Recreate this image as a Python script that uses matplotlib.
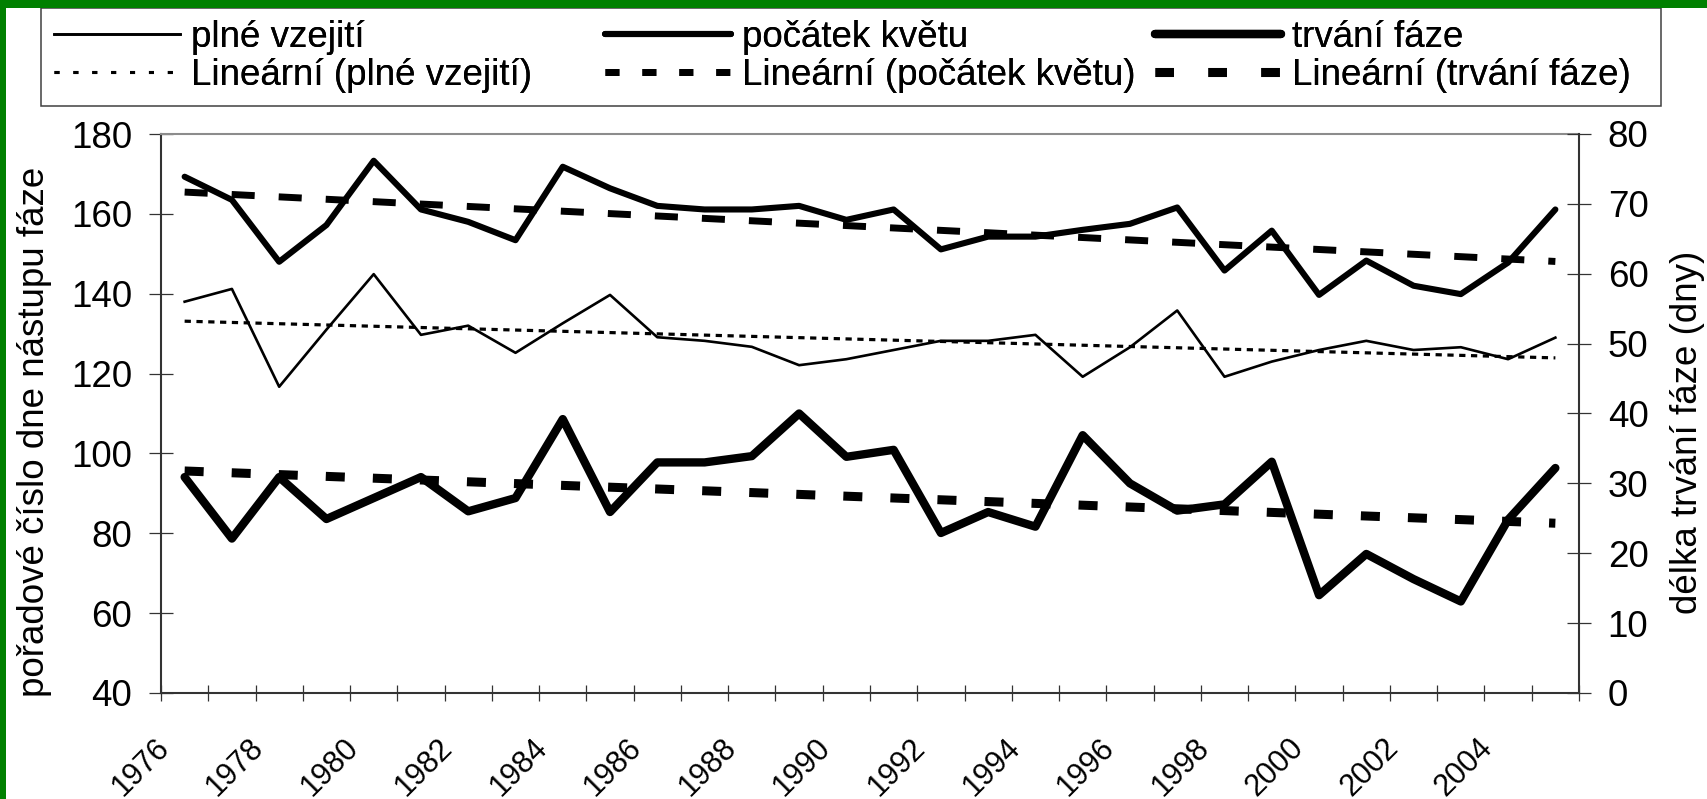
import numpy as np
import matplotlib
matplotlib.use("Agg")
import matplotlib.pyplot as plt
from matplotlib.patches import Rectangle
from matplotlib.lines import Line2D
from matplotlib.transforms import ScaledTranslation

plt.rcParams['font.family'] = ['Liberation Sans', 'DejaVu Sans']
plt.rcParams['lines.scale_dashes'] = False

# data
years = list(range(1976, 2006))
plne_vzejiti = [138.0, 141.2, 116.7, 131.0, 144.9, 129.7, 132.0, 125.2, 132.6, 139.7,
                129.1, 128.2, 126.7, 122.1, 123.6, 125.9, 128.2, 128.2, 129.7, 119.2,
                126.6, 135.8, 119.2, 123.0, 125.9, 128.2, 125.9, 126.6, 123.6, 129.0]
pocatek_kvetu = [169.3, 163.5, 148.0, 157.2, 173.3, 161.1, 158.0, 153.4, 171.8, 166.4,
                 162.0, 161.1, 161.1, 162.0, 158.5, 161.1, 151.1, 154.3, 154.3, 156.0,
                 157.5, 161.6, 145.8, 155.8, 139.7, 148.3, 142.0, 139.9, 147.8, 161.1]
trvani_faze = [30.9, 22.1, 30.9, 24.9, 27.9, 30.9, 26.0, 27.9, 39.2, 25.9,
               33.0, 33.0, 33.9, 40.0, 33.8, 34.8, 22.9, 25.9, 23.8, 36.9,
               30.0, 26.1, 27.0, 33.1, 14.0, 19.9, 16.3, 13.1, 24.8, 32.2]
tick_labels = [str(y) for y in years[::2]]

W, H = 1708, 799
FS = 26.5      # legend, y tick labels, axis titles
FS_SMALL = 22  # year labels

fig = plt.figure(figsize=(W / 100, H / 100), dpi=100)
ax = fig.add_axes([161 / W, 1 - 693 / H, (1579 - 161) / W, (693 - 134) / H])
ax2 = ax.twinx()

idx = np.arange(len(years))
x = idx + 0.5

def trend(vals):
    k, q = np.polyfit(idx, vals, 1)
    return k * idx + q

# series
ax.plot(x, plne_vzejiti, color='black', lw=1.9, solid_joinstyle='round')
ax.plot(x, pocatek_kvetu, color='black', lw=4.4, solid_joinstyle='round', solid_capstyle='round')
ax2.plot(x, trvani_faze, color='black', lw=6.0, solid_joinstyle='round', solid_capstyle='round')

# linear trends
ax.plot(x, trend(plne_vzejiti), color='black', lw=2.3, dashes=(4.5, 4.0), dash_capstyle='butt')
ax.plot(x, trend(pocatek_kvetu), color='black', lw=5.0, dashes=(16.6, 17.3), dash_capstyle='butt')
ax2.plot(x, trend(trvani_faze), color='black', lw=6.5, dashes=(13.7, 20.2), dash_capstyle='butt')

# axes
ax.set_xlim(0, 30)
ax.set_ylim(40, 180)
ax.set_yticks(np.arange(40, 181, 20))
ax2.set_ylim(0, 80)
ax2.set_yticks(np.arange(0, 81, 10))

ax.set_xticks(np.arange(0, 31))
ax.set_xticklabels([tick_labels[i // 2] if (i % 2 == 0 and i < 30) else '' for i in range(31)])
ax.tick_params(axis='x', direction='inout', length=11.5, width=0.9, color='#333333',
               labelsize=FS_SMALL, pad=23)
for lab in ax.get_xticklabels():
    lab.set_rotation(45)
    lab.set_rotation_mode('anchor')
    lab.set_ha('right')
    lab.set_va('top')
    lab.set_transform(lab.get_transform() + ScaledTranslation(-7 / 100, 0, fig.dpi_scale_trans))

ax.tick_params(axis='y', direction='inout', length=17.3, width=0.9, color='#333333',
               labelsize=FS, pad=12)
ax2.tick_params(axis='y', direction='inout', length=17.3, width=0.9, color='#333333',
                labelsize=FS, pad=12)

for sp in ['left', 'bottom']:
    ax.spines[sp].set_color('#333333')
    ax.spines[sp].set_linewidth(1.5)
ax.spines['top'].set_color('#8c8c8c')
ax.spines['top'].set_linewidth(1.5)
ax.spines['right'].set_visible(False)
for sp in ['left', 'bottom', 'top']:
    ax2.spines[sp].set_visible(False)
ax2.spines['right'].set_color('#333333')
ax2.spines['right'].set_linewidth(1.5)

ax.set_ylabel('pořadové číslo dne nástupu fáze', fontsize=FS)
ax.yaxis.set_label_coords(-0.0769, 0.467)
ax2.set_ylabel('délka trvání fáze (dny)', fontsize=FS)
ax2.yaxis.set_label_coords(1.0642, 0.467)

# legend: three columns of equal width, inside one box
leg_cols = [
    ([Line2D([], [], color='black', lw=1.9),
      Line2D([], [], color='black', lw=2.2, dashes=(3.6, 10), dash_capstyle='butt')],
     ['plné vzejití', 'Lineární (plné vzejití)'], 54),
    ([Line2D([], [], color='black', lw=4.4, solid_capstyle='round'),
      Line2D([], [], color='black', lw=5.0, dashes=(10, 16.6), dash_capstyle='butt')],
     ['počátek květu', 'Lineární (počátek květu)'], 605),
    ([Line2D([], [], color='black', lw=6.0, solid_capstyle='round'),
      Line2D([], [], color='black', lw=6.5, dashes=(13.3, 24.8), dash_capstyle='butt')],
     ['trvání fáze', 'Lineární (trvání fáze)'], 1155),
]
for handles, labels, x0 in leg_cols:
    leg = fig.legend(handles, labels, loc='upper left',
                     bbox_to_anchor=(x0 / W, 1 - 20 / H), bbox_transform=fig.transFigure,
                     frameon=False, borderpad=0, borderaxespad=0, fontsize=FS,
                     handlelength=3.42, handletextpad=0.3, labelspacing=0.08)
    fig.add_artist(leg)

fig.add_artist(Rectangle((41 / W, 1 - 106 / H), (1661 - 41) / W, (106 - 8) / H,
                         transform=fig.transFigure, facecolor='none',
                         edgecolor='#404040', lw=1.1))

# green frame at top and left
fig.add_artist(Rectangle((0, 1 - 8 / H), 1, 8 / H, transform=fig.transFigure,
                         facecolor='#008000', edgecolor='none'))
fig.add_artist(Rectangle((0, 0), 6 / W, 1, transform=fig.transFigure,
                         facecolor='#008000', edgecolor='none'))

fig.savefig('out.png', dpi=100)
